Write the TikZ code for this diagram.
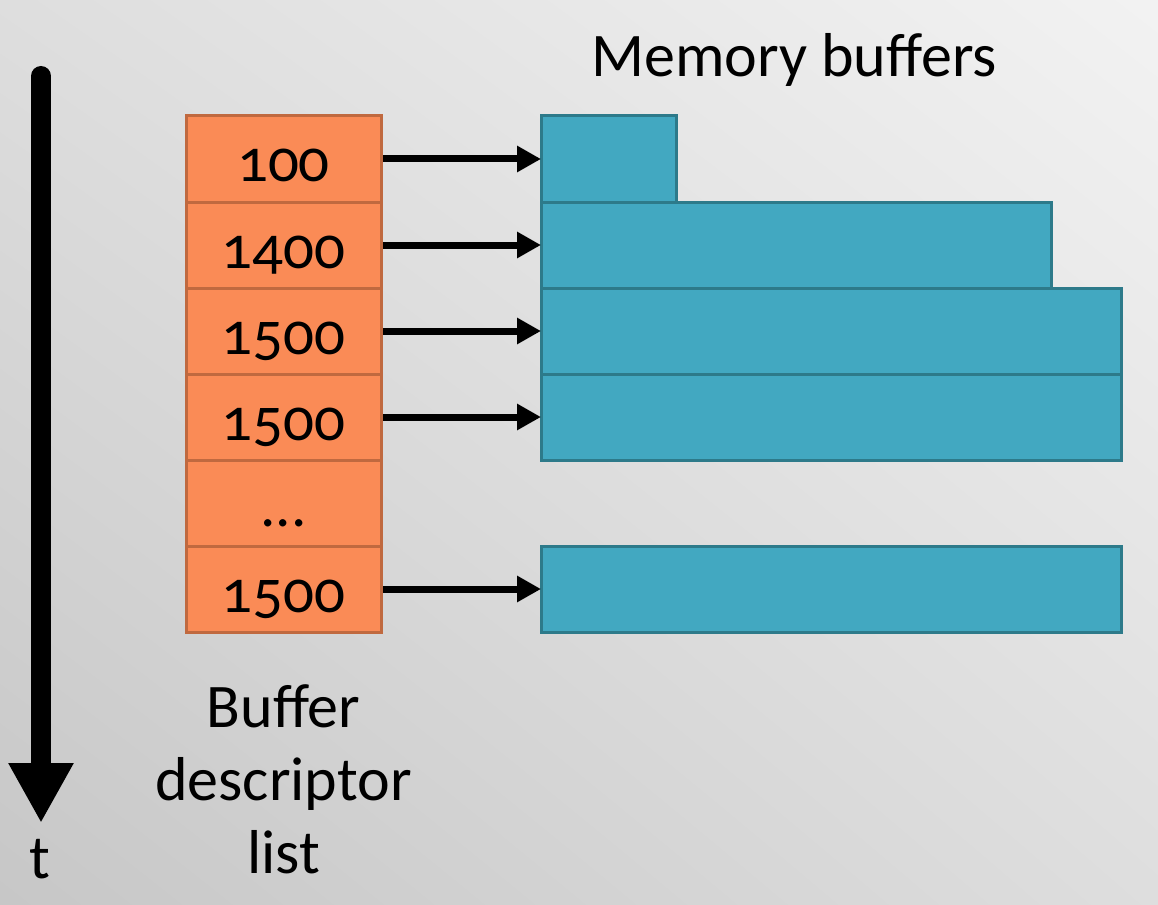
\documentclass[tikz,border=0pt]{standalone}
\usepackage{fontspec}
\setmainfont{Carlito}[Numbers=OldStyle]
\usepackage{xcolor}
\usetikzlibrary{arrows.meta,positioning,shadings}

\definecolor{descfill}{HTML}{FA8B56}
\definecolor{descline}{HTML}{C0693F}
\definecolor{buffill}{HTML}{42A8C1}
\definecolor{bufline}{HTML}{2D7A8A}

\begin{document}
\begin{tikzpicture}[
  x=1pt,y=-1pt,
  node distance=0pt,
  desc/.style={rectangle,draw=descline,fill=descfill,line width=3pt,minimum width=195pt,minimum height=86pt,
    inner sep=0pt,outer sep=0pt,text height=58pt,text depth=12pt,font=\fontsize{61}{73}\selectfont},
  buf/.style={rectangle,draw=bufline,fill=buffill,line width=3pt,minimum height=86pt,inner sep=0pt,outer sep=0pt},
  arr/.style={-{Triangle[length=24pt,width=25pt]},line width=7pt,shorten <=2pt},
  timearr/.style={-{Triangle[length=60pt,width=61pt]},line width=20pt,line cap=round},
  lbl/.style={font=\fontsize{62}{73}\selectfont,inner sep=0pt}
]
% background
\shade[upper left=black!13,upper right=black!5,lower left=black!22,lower right=black!13]
  (0,0) rectangle (1158,904);
\useasboundingbox (0,0) rectangle (1158,904);

% time axis
\coordinate (ttop) at (41,76);
\coordinate (tend) at (41,823);
\draw[timearr] (ttop) -- (tend);
\node[lbl,anchor=base] (tlabel) at (40,878) {t};

% buffer descriptor list
\node[desc] (d1) at (283.5,159) {100};
\node[desc,below=of d1] (d2) {1400};
\node[desc,below=of d2] (d3) {1500};
\node[desc,below=of d3] (d4) {1500};
\node[desc,below=of d4] (d5) {...};
\node[desc,below=of d5] (d6) {1500};

% memory buffers
\node[buf,minimum width=135pt,right=160pt of d1] (b1) {};
\node[buf,minimum width=510pt,right=160pt of d2] (b2) {};
\node[buf,minimum width=580pt,right=160pt of d3] (b3) {};
\node[buf,minimum width=580pt,right=160pt of d4] (b4) {};
\node[buf,minimum width=580pt,right=160pt of d6] (b6) {};

\draw[arr] (d1) -- (b1);
\draw[arr] (d2) -- (b2);
\draw[arr] (d3) -- (b3);
\draw[arr] (d4) -- (b4);
\draw[arr] (d6) -- (b6);

% labels
\node[lbl,anchor=base] (memlabel) at (794,77) {Memory buffers};
\node[lbl,anchor=base,align=center] (desclabel) at (283.5,873) {Buffer\\descriptor\\list};
\end{tikzpicture}
\end{document}
